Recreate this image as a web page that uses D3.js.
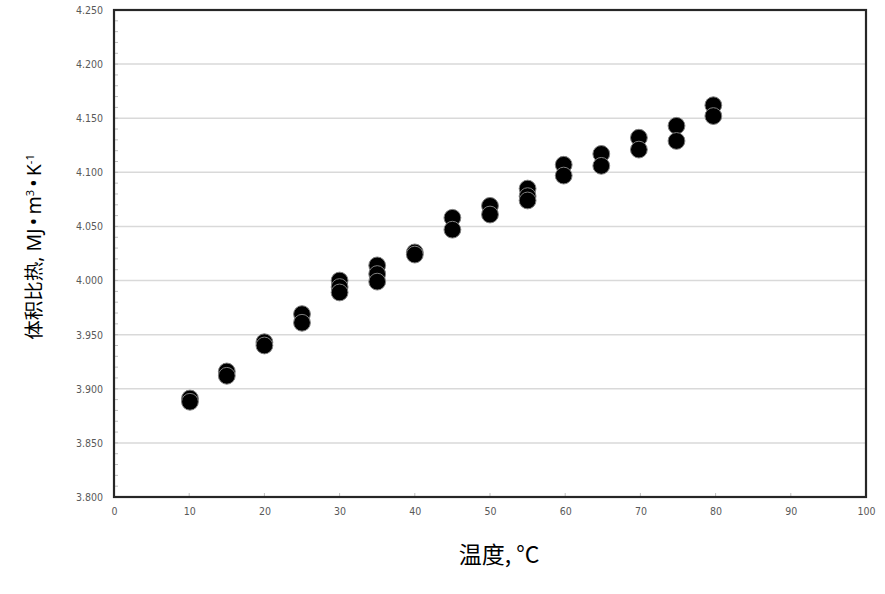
<!DOCTYPE html>
<html>
<head>
<meta charset="utf-8">
<script src="https://cdn.jsdelivr.net/npm/d3@7"></script>
<style>
html,body{margin:0;padding:0;background:#fff;}
svg{display:block;}
</style>
</head>
<body>
<svg id="chart" width="885" height="594"></svg>
<script>
// Data
const temps = [10.1, 15, 20, 25, 30, 35, 40, 45, 50, 55, 59.8, 64.8, 69.8, 74.8, 79.7];
const seriesValues = [
  [3.891, 3.888],
  [3.916, 3.912],
  [3.943, 3.940],
  [3.969, 3.961],
  [4.000, 3.994, 3.989],
  [4.014, 4.006, 3.999],
  [4.026, 4.024],
  [4.058, 4.047],
  [4.069, 4.061],
  [4.085, 4.078, 4.074],
  [4.107, 4.097],
  [4.117, 4.106],
  [4.132, 4.121],
  [4.143, 4.129],
  [4.162, 4.152]
];
const xTicks = [0, 10, 20, 30, 40, 50, 60, 70, 80, 90, 100];
const yTicks = [3.80, 3.85, 3.90, 3.95, 4.00, 4.05, 4.10, 4.15, 4.20, 4.25];
const yMinorTicks = d3.range(3.80, 4.2501, 0.01);
const xTitle = "温度, °C";

(function () {
const svg = d3.select("#chart");
const mLeft = 114, mRight = 866, mTop = 10, mBottom = 497;

const x = d3.scaleLinear().domain([0, 100]).range([mLeft, mRight]);
const y = d3.scaleLinear().domain([3.80, 4.25]).range([mBottom, mTop]);

// gridlines
svg.append("g").selectAll("line").data(yTicks.filter(d => d > 3.8 && d < 4.25)).join("line")
  .attr("x1", mLeft).attr("x2", mRight)
  .attr("y1", d => y(d)).attr("y2", d => y(d))
  .attr("stroke", "#d9d9d9").attr("stroke-width", 1.5);

// minor y ticks (inside)
svg.append("g").selectAll("line").data(yMinorTicks).join("line")
  .attr("x1", mLeft).attr("x2", mLeft + 4)
  .attr("y1", d => y(d)).attr("y2", d => y(d))
  .attr("stroke", "#bfbfbf").attr("stroke-width", 1);

// x ticks (inside, upward)
svg.append("g").selectAll("line").data(xTicks).join("line")
  .attr("x1", d => x(d)).attr("x2", d => x(d))
  .attr("y1", mBottom).attr("y2", mBottom - 4)
  .attr("stroke", "#bfbfbf").attr("stroke-width", 1);

const tickFont = "'Liberation Sans Narrow','DejaVu Sans Condensed','Liberation Sans',sans-serif";

const yAxis = d3.axisLeft(y).tickValues(yTicks).tickFormat(d3.format(".3f")).tickSize(0).tickPadding(11);
const gy = svg.append("g").attr("transform", `translate(${mLeft},0)`).call(yAxis);
gy.select(".domain").remove();
gy.selectAll("text").attr("font-family", tickFont).attr("font-size", 10.5).attr("fill", "#595959");

const xAxis = d3.axisBottom(x).tickValues(xTicks).tickFormat(d3.format("d")).tickSize(0).tickPadding(11);
const gx = svg.append("g").attr("transform", `translate(0,${mBottom})`).call(xAxis);
gx.select(".domain").remove();
gx.selectAll("text").attr("font-family", tickFont).attr("font-size", 10.5).attr("fill", "#595959");

// points
const pts = [];
temps.forEach((t, i) => seriesValues[i].forEach(v => pts.push({t, v})));
svg.append("g").selectAll("circle").data(pts).join("circle")
  .attr("cx", d => x(d.t)).attr("cy", d => y(d.v))
  .attr("r", 8.4)
  .attr("fill", "#000")
  .attr("stroke", "#7f7f7f").attr("stroke-width", 1);

// frame
svg.append("rect")
  .attr("x", mLeft).attr("y", mTop)
  .attr("width", mRight - mLeft).attr("height", mBottom - mTop)
  .attr("fill", "none").attr("stroke", "#262626").attr("stroke-width", 2.2);

// titles
svg.append("text")
  .attr("x", 499).attr("y", 563)
  .attr("text-anchor", "middle")
  .attr("font-family", "'Noto Sans CJK SC','Noto Sans',sans-serif")
  .attr("font-size", 23).attr("fill", "#000")
  .text(xTitle);

const yt = svg.append("text")
  .attr("transform", "translate(41,247) rotate(-90)")
  .attr("text-anchor", "middle")
  .attr("font-family", "'Noto Sans','Noto Sans CJK SC',sans-serif")
  .attr("font-size", 19.5).attr("fill", "#000");
yt.append("tspan").attr("font-family", "'Noto Sans CJK SC',sans-serif").text("体积比热");
yt.append("tspan").text(", MJ\u2009•\u2009m");
yt.append("tspan").attr("font-size", 11).attr("dy", -7).text("3");
yt.append("tspan").attr("dy", 7).text("\u2009•\u2009K");
yt.append("tspan").attr("font-size", 11).attr("dy", -7).text("-1");
})();
</script>
</body>
</html>
